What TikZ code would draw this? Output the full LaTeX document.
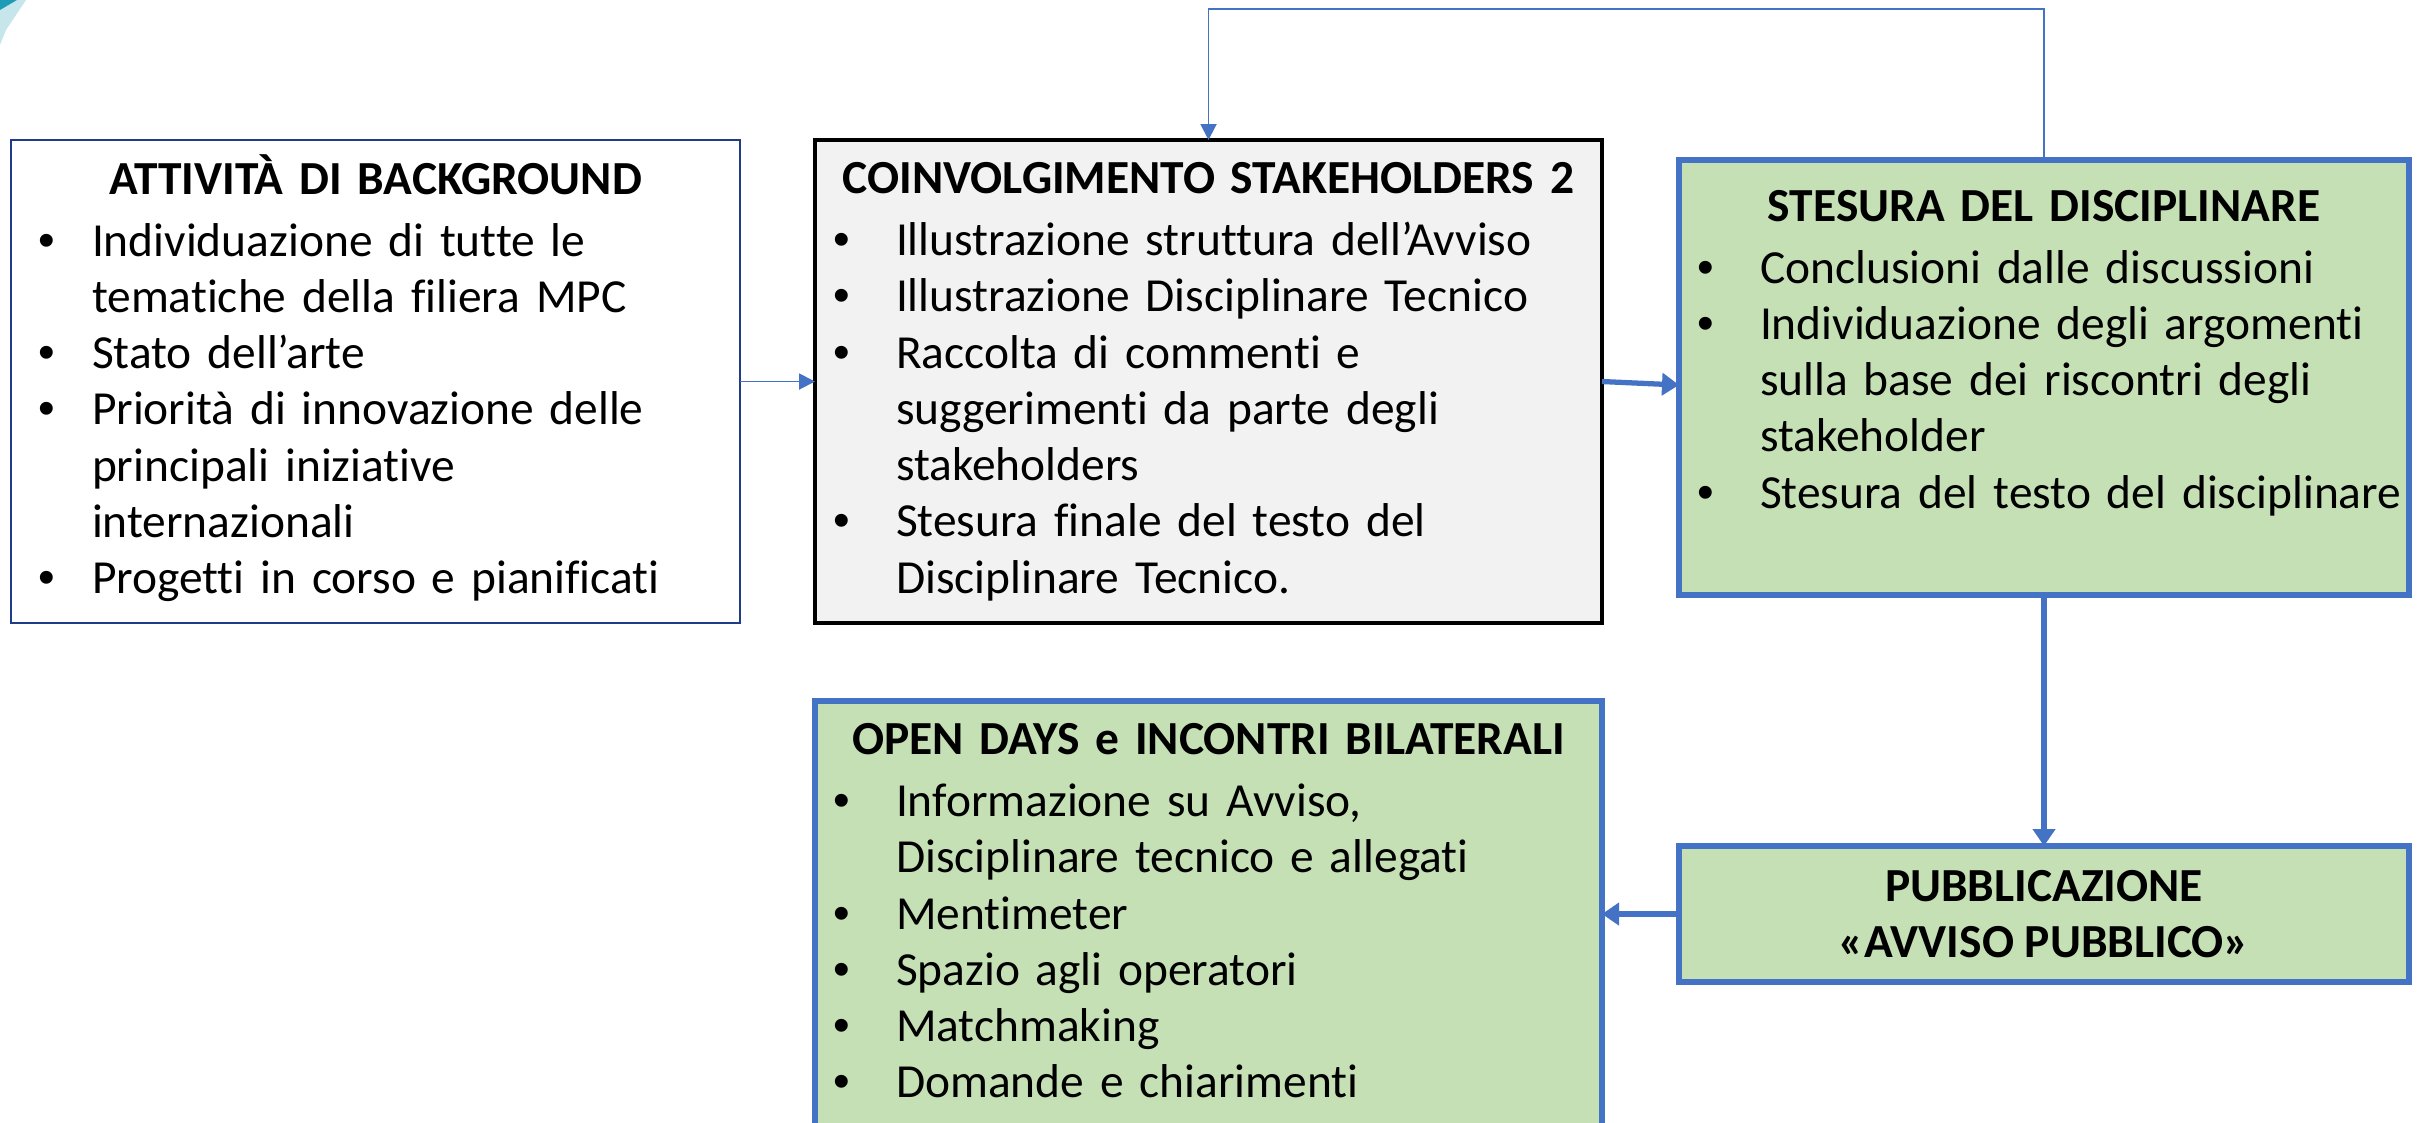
\documentclass[tikz,border=0pt]{standalone}
\usepackage{fontspec}
\setmainfont{Carlito}[Ligatures={NoCommon,NoContextual}]
\newfontfamily\bulletfont{Liberation Sans}
\usetikzlibrary{arrows.meta,calc}
\definecolor{pblue}{HTML}{4472C4}
\definecolor{pgreen}{HTML}{C5E0B4}
\definecolor{pgrey}{HTML}{F2F2F2}
\definecolor{pnavy}{HTML}{1F3C88}
\definecolor{pteal}{HTML}{1E9BB5}
\newcommand\bul[2][0.27cm]{\par\hangindent=0.81cm\hangafter=1\noindent\makebox[0.81cm][l]{\hspace{#1}\makebox[0pt][c]{\bulletfont •}}#2\par}
\newcommand\ttl[1]{{\centering\bfseries\strut #1\par}\vspace{1.6pt}}
\begin{document}
\begin{tikzpicture}[x=1cm,y=-1cm,
  every node/.style={inner sep=0pt, outer sep=0pt},
  boxbg/.style={draw=pnavy, line width=0.8pt, fill=white, rectangle, anchor=north west},
  boxgrey/.style={draw=black, line width=0.9pt, fill=pgrey, rectangle, anchor=north west},
  boxgreen/.style={draw=pblue, line width=1.5pt, fill=pgreen, rectangle, anchor=north west},
  boxtext/.style={anchor=north west, align=left, font=\fontsize{13.5pt}{16pt}\selectfont},
  thinarrow/.style={draw=pblue, line width=0.55pt, -{Triangle[length=0.16cm,width=0.16cm]}},
  thickarrow/.style={draw=pblue, line width=1.5pt, -{Triangle[length=0.17cm,width=0.22cm]}}
]
\useasboundingbox (0,0) rectangle (24.17,11.22);
\clip (0,0) rectangle (24.17,11.22);
% corner decoration
\fill[pteal!25] (0.17,0) -- (0.26,0) -- (0.06,0.30) -- (0,0.45) -- (0,0.10) -- cycle;
\fill[pteal] (0,0) -- (0.17,0) -- (0,0.10) -- cycle;

% boxes
\node[boxbg, minimum width=7.29cm, minimum height=4.83cm] (bg) at (0.11,1.40) {};
\node[boxgrey, minimum width=7.87cm, minimum height=4.83cm] (c2) at (8.15,1.40) {};
\node[boxgreen, minimum width=7.30cm, minimum height=4.35cm] (c3) at (16.79,1.60) {};
\node[boxgreen, minimum width=7.87cm, minimum height=4.60cm] (c4) at (8.15,7.01) {};
\node[boxgreen, minimum width=7.30cm, minimum height=1.36cm] (c5) at (16.79,8.46) {};

% texts
\node[boxtext, text width=7.29cm] (t1) at ($(bg.north west)+(0,0.145)$) {%
\ttl{ATTIVITÀ DI BACKGROUND}%
\bul[0.36cm]{Individuazione di tutte le\newline tematiche della filiera MPC}%
\bul[0.36cm]{Stato dell’arte}%
\bul[0.36cm]{Priorità di innovazione delle\newline principali iniziative\newline internazionali}%
\bul[0.36cm]{Progetti in corso e pianificati}};

\node[boxtext, text width=7.87cm] (t2) at ($(c2.north west)+(0,0.145)$) {%
\ttl{COINVOLGIMENTO STAKEHOLDERS 2}%
\bul{Illustrazione struttura dell’Avviso}%
\bul{Illustrazione Disciplinare Tecnico}%
\bul{Raccolta di commenti e\newline suggerimenti da parte degli\newline stakeholders}%
\bul{Stesura finale del testo del\newline Disciplinare Tecnico.}};

\node[boxtext, text width=7.30cm] (t3) at ($(c3.north west)+(0,0.22)$) {%
\ttl{STESURA DEL DISCIPLINARE}%
\bul{Conclusioni dalle discussioni}%
\bul{Individuazione degli argomenti\newline sulla base dei riscontri degli\newline stakeholder}%
\bul{Stesura del testo del disciplinare}};

\node[boxtext, text width=7.87cm] (t4) at ($(c4.north west)+(0,0.145)$) {%
\ttl{OPEN DAYS e INCONTRI BILATERALI}%
\bul{Informazione su Avviso,\newline Disciplinare tecnico e allegati}%
\bul{Mentimeter}%
\bul{Spazio agli operatori}%
\bul{Matchmaking}%
\bul{Domande e chiarimenti}};

\node[align=center, font=\fontsize{13.5pt}{16pt}\selectfont\bfseries] (t5) at (c5.center) {PUBBLICAZIONE\\«AVVISO PUBBLICO»};

% connectors
\coordinate (loop) at (12,0.09);
\draw[thinarrow] (bg.east) -- (c2.west);
\draw[thickarrow] (c2.east) -- ([yshift=-0.075cm]c3.west);
\draw[thinarrow] (c3.north) -- (c3.north |- loop) -| (c2.north);
\draw[thickarrow] (c3.south) -- (c5.north);
\draw[thickarrow] (c5.west) -- (c5.west -| c4.east);
\end{tikzpicture}
\end{document}
